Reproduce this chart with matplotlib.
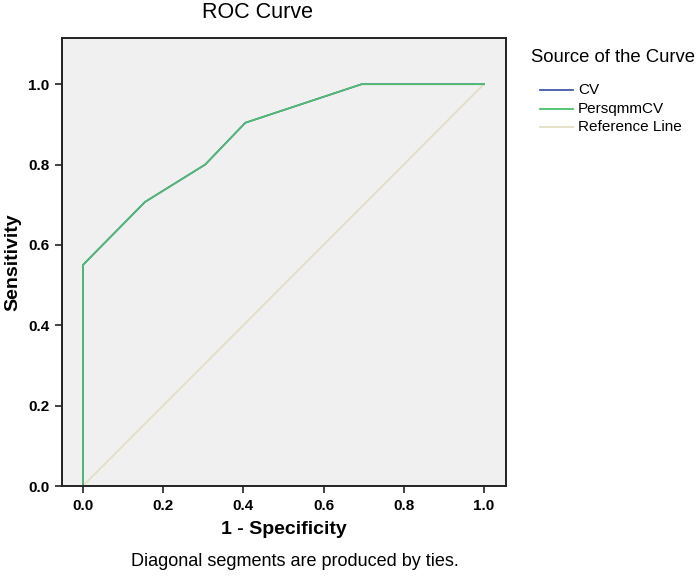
import matplotlib
matplotlib.use('Agg')
import matplotlib.pyplot as plt
from matplotlib.lines import Line2D

plt.rcParams['font.family'] = ['Liberation Sans', 'DejaVu Sans']

fpr = [0.0, 0.0, 0.155, 0.305, 0.405, 0.695, 1.0]
tpr = [0.0, 0.55, 0.707, 0.80, 0.904, 1.0, 1.0]
ref_x = [0.0, 1.0]
ref_y = [0.0, 1.0]
series_names = ['CV', 'PersqmmCV', 'Reference Line']
ticks = [0.0, 0.2, 0.4, 0.6, 0.8, 1.0]

c_cv = '#3f5aa8'
c_green = '#4cbf6a'
c_ref = '#e2dfc4'

W, H = 696, 577
fig = plt.figure(figsize=(6.96, 5.77), dpi=100)
ax = fig.add_axes([62/W, 1-486/H, (506-62)/W, (486-38)/H])
ax.set_facecolor('#f0f0f0')

ax.plot(ref_x, ref_y, color=c_ref, lw=1.3)
ax.plot(fpr, tpr, color=c_cv, lw=1.2)
ax.plot(fpr, tpr, color=c_green, lw=1.2)

ax.set_xlim(-0.052, 1.055)
ax.set_ylim(0.0, 1.115)
ax.set_xticks(ticks)
ax.set_yticks(ticks)
ax.set_xticklabels(['%.1f' % t for t in ticks], fontsize=11, fontweight='bold')
ax.set_yticklabels(['%.1f' % t for t in ticks], fontsize=11, fontweight='bold')
ax.tick_params(direction='out', length=5, width=1.2, color='#222222', pad=4)
for s in ax.spines.values():
    s.set_linewidth(1.4)
    s.set_color('#222222')

ax.set_xlabel('1 - Specificity', fontsize=14, fontweight='bold', labelpad=6)
ax.set_ylabel('Sensitivity', fontsize=14, fontweight='bold', labelpad=5)

fig.text(258/W, 1-13/H, 'ROC Curve', ha='center', va='center', fontsize=15.5)
fig.text(295/W, 1-561/H, 'Diagonal segments are produced by ties.',
         ha='center', va='center', fontsize=13)

# legend drawn by hand to match the spacing
fig.text(531/W, 1-58/H, 'Source of the Curve', ha='left', va='center', fontsize=13.3)
rows = [90, 109, 127]
for name, c, yy in zip(series_names, [c_cv, c_green, c_ref], rows):
    fig.add_artist(Line2D([540/W, 573/W], [1-yy/H, 1-yy/H], color=c, lw=1.3))
    fig.text(578/W, 1-yy/H, name, ha='left', va='center', fontsize=11)

fig.savefig('out.png', dpi=100)
